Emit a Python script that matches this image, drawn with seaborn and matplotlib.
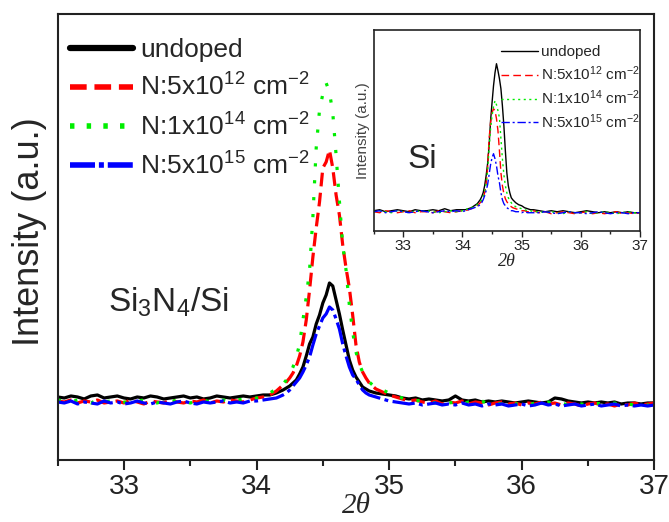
import pandas as pd
import seaborn as sns
import matplotlib.pyplot as plt
from matplotlib.lines import Line2D
from matplotlib.ticker import MultipleLocator

sns.set_theme(style='white')
plt.rcParams['font.family'] = ['Liberation Sans', 'DejaVu Sans']
plt.rcParams['mathtext.fontset'] = 'custom'
plt.rcParams['mathtext.rm'] = 'Liberation Sans'
plt.rcParams['mathtext.it'] = 'Liberation Sans:italic'
plt.rcParams['mathtext.default'] = 'regular'

# sample names, colours
samples = ['undoped', 'N:5x10$^{12}$ cm$^{-2}$', 'N:1x10$^{14}$ cm$^{-2}$', 'N:5x10$^{15}$ cm$^{-2}$']
colors = ['black', '#ff0000', '#00ee00', '#0000ff']

# main panel: Si3N4/Si
two_theta = [32.50, 32.55, 32.60, 32.65, 32.70, 32.75, 32.80, 32.85, 32.90, 32.95,
             33.00, 33.05, 33.10, 33.15, 33.20, 33.25, 33.30, 33.35, 33.40, 33.45,
             33.50, 33.55, 33.60, 33.65, 33.70, 33.75, 33.80, 33.85, 33.90, 33.95,
             34.00, 34.05, 34.10, 34.15,
             34.200, 34.225, 34.250, 34.275, 34.300, 34.325, 34.350, 34.375, 34.400, 34.425,
             34.450, 34.475, 34.500, 34.525, 34.550, 34.575, 34.600, 34.625, 34.650, 34.675,
             34.700, 34.725, 34.750, 34.775, 34.800, 34.825, 34.850, 34.875, 34.900,
             34.95, 35.00, 35.05, 35.10, 35.15, 35.20, 35.25, 35.30, 35.35, 35.40,
             35.45, 35.50, 35.55, 35.60, 35.65, 35.70, 35.75, 35.80, 35.85, 35.90,
             35.95, 36.00, 36.05, 36.10, 36.15, 36.20, 36.25, 36.30, 36.35, 36.40,
             36.45, 36.50, 36.55, 36.60, 36.65, 36.70, 36.75, 36.80, 36.85, 36.90,
             36.95, 37.00]

undoped = [63, 62, 64, 63, 61, 64, 65, 62, 63, 64, 62, 61, 63, 62, 64, 63, 61, 62, 63, 64,
           62, 63, 61, 62, 64, 63, 62, 63, 64, 63,
           64, 65, 65, 67,
           70, 72, 74, 77, 80, 86, 93, 104, 116, 123, 136, 145, 157, 165, 177, 174, 160, 146,
           130, 115, 100, 90, 83, 78, 73, 71, 69, 68, 67,
           66, 65, 64, 62, 61, 62, 60, 61, 60, 59, 60, 64, 60, 59, 60, 58, 59, 58, 59, 58,
           57, 58, 59, 58, 57, 58, 62, 61, 59, 58, 57, 58, 57, 58, 57, 58, 56, 57, 57, 56,
           57, 57]
n_5e12 = [59, 58, 60, 57, 59, 58, 60, 57, 58, 59, 57, 60, 58, 56, 59, 58, 57, 60, 58, 57,
          59, 58, 60, 57, 59, 58, 60, 59, 58, 60,
          62, 63, 65, 69,
          75, 78, 82, 87, 94, 104, 118, 140, 170, 203, 232, 258, 292, 298, 310, 292, 265, 245,
          215, 192, 172, 145, 115, 98, 88, 82, 77, 74, 71,
          68, 65, 63, 61, 59, 60, 58, 57, 59, 56, 58, 57, 59, 56, 58, 57, 55, 57, 58, 56,
          57, 55, 57, 56, 58, 56, 57, 55, 57, 56, 54, 56, 57, 55, 56, 54, 56, 55, 57, 55,
          56, 57]
n_1e14 = [60, 59, 58, 60, 59, 57, 60, 58, 59, 60, 58, 57, 59, 60, 58, 57, 59, 58, 60, 59,
          57, 59, 60, 58, 59, 60, 58, 60, 61, 60,
          62, 64, 67, 71,
          76, 80, 86, 93, 103, 116, 140, 163, 190, 243, 312, 350, 366, 377, 368, 347, 305, 259,
          215, 190, 155, 128, 108, 96, 88, 83, 78, 75, 73,
          70, 67, 64, 62, 61, 59, 60, 58, 57, 59, 57, 58, 56, 58, 57, 59, 56, 57, 56, 58,
          56, 57, 55, 57, 56, 58, 56, 57, 55, 57, 56, 55, 57, 56, 55, 57, 55, 56, 55, 56,
          55, 53]
n_5e15 = [58, 57, 59, 56, 58, 57, 56, 59, 57, 58, 56, 57, 59, 57, 56, 58, 57, 56, 58, 59,
          57, 56, 58, 57, 58, 59, 57, 58, 57, 59,
          59, 60, 61, 62,
          65, 67, 70, 74, 78, 82, 88, 95, 103, 115, 126, 134, 142, 146, 153, 150, 141, 131,
          116, 104, 93, 85, 81, 75, 70, 67, 65, 64, 63,
          61, 59, 58, 57, 56, 57, 55, 56, 57, 55, 56, 55, 57, 55, 56, 54, 56, 55, 56, 54,
          55, 56, 54, 55, 57, 55, 56, 54, 55, 56, 54, 55, 56, 54, 55, 56, 54, 55, 54, 55,
          54, 55]

# inset: Si
two_theta_si = [32.5, 32.6, 32.7, 32.8, 32.9, 33.0, 33.1, 33.2, 33.3, 33.4, 33.5, 33.6, 33.7,
                33.8, 33.9, 34.0,
                34.05, 34.10, 34.15, 34.20, 34.25,
                34.300, 34.325, 34.350, 34.375, 34.400, 34.425, 34.450, 34.475, 34.500, 34.525,
                34.550, 34.575, 34.600, 34.625, 34.650, 34.675, 34.700, 34.725, 34.750, 34.775,
                34.800, 34.825, 34.850,
                34.90, 34.95, 35.00, 35.05, 35.10, 35.15, 35.20,
                35.3, 35.4, 35.5, 35.6, 35.7, 35.8, 35.9, 36.0, 36.1, 36.2, 36.3, 36.4, 36.5,
                36.6, 36.7, 36.8, 36.9, 37.0]

si_undoped = [20, 21, 19, 20, 21, 20, 19, 21, 20, 20, 21, 20, 22, 20, 21, 21,
              21, 22, 23, 25, 27,
              31, 34, 38, 45, 55, 67, 85, 110, 128, 145, 158, 167, 160, 152, 142, 125, 105, 80,
              58, 45, 38, 33, 31,
              28, 26, 25, 23, 22, 21, 21,
              20, 19, 20, 19, 20, 19, 18, 19, 20, 19, 18, 19, 18, 19, 18, 19, 18, 18]
si_5e12 = [19, 18, 20, 19, 18, 19, 20, 18, 19, 19, 18, 20, 19, 18, 19, 20,
           20, 21, 22, 23, 25,
           28, 30, 33, 38, 47, 63, 92, 108, 118, 122, 120, 112, 100, 80, 58, 45, 37, 32,
           29, 27, 25, 24, 23,
           22, 21, 20, 20, 19, 19, 20,
           18, 19, 17, 18, 19, 18, 17, 18, 19, 17, 18, 17, 18, 19, 17, 18, 17, 18]
si_1e14 = [19, 20, 19, 18, 20, 19, 18, 20, 19, 20, 19, 18, 19, 20, 19, 20,
           21, 22, 23, 24, 26,
           29, 31, 34, 39, 47, 60, 82, 102, 115, 124, 130, 126, 120, 113, 92, 72, 56, 45,
           38, 33, 30, 28, 26,
           24, 23, 22, 21, 20, 20, 19,
           19, 18, 19, 18, 17, 19, 18, 18, 19, 17, 18, 19, 18, 17, 18, 19, 18, 17]
si_5e15 = [19, 20, 18, 19, 20, 19, 18, 19, 20, 19, 18, 19, 20, 19, 20, 19,
           20, 21, 22, 23, 24,
           26, 28, 31, 35, 40, 46, 56, 66, 73, 77, 72, 65, 55, 48, 38, 31, 27, 25,
           23, 22, 21, 20, 20,
           19, 19, 18, 19, 18, 18, 18,
           18, 19, 18, 17, 18, 19, 18, 18, 17, 18, 19, 18, 17, 18, 18, 17, 18, 18]


def long_table(x, series):
    parts = [pd.DataFrame({'two_theta': x, 'intensity': y, 'sample': s})
             for s, y in zip(samples, series)]
    return pd.concat(parts, ignore_index=True)


df_main = long_table(two_theta, [undoped, n_5e12, n_1e14, n_5e15])
df_si = long_table(two_theta_si, [si_undoped, si_5e12, si_1e14, si_5e15])

palette = dict(zip(samples, colors))
dash_main = dict(zip(samples, ['', (4.3, 2.0), (1.0, 4.3), (7.0, 1.4, 1.2, 1.4)]))
dash_si = dict(zip(samples, ['', (5.5, 3.0), (1.5, 2.5), (6.0, 2.0, 1.5, 2.0)]))

fig = plt.figure(figsize=(6.69, 5.22), dpi=100)
ax = fig.add_axes([0.0862, 0.1188, 0.8918, 0.8544])

sns.lineplot(data=df_main, x='two_theta', y='intensity', hue='sample', style='sample',
             palette=palette, dashes=dash_main, estimator=None, lw=2.3, legend=False, ax=ax)
ax.set_xlim(32.5, 37)
ax.set_ylim(0, 446)
ax.set_xlabel('')
ax.set_ylabel('')
ax.set_yticks([])
ax.set_xticks([33, 34, 35, 36, 37])
ax.xaxis.set_minor_locator(MultipleLocator(0.5))
ax.tick_params(axis='x', which='major', bottom=True, direction='out', length=7, width=1.5,
               labelsize=20, pad=3, colors='#222')
ax.tick_params(axis='x', which='minor', bottom=True, direction='out', length=4, width=1.5,
               colors='#222')
for sp in ax.spines.values():
    sp.set_linewidth(1.5)
    sp.set_color('#222')

handles = [Line2D([], [], color='black', lw=4.5),
           Line2D([], [], color=colors[1], lw=4, dashes=(3.0, 1.4)),
           Line2D([], [], color=colors[2], lw=4, dashes=(0.8, 2.2)),
           Line2D([], [], color=colors[3], lw=4, dashes=(4.5, 0.7, 0.9, 0.7))]
ax.legend(handles, samples, loc='upper left', bbox_to_anchor=(70 / 669, 1 - 38 / 522),
          bbox_transform=fig.transFigure, frameon=False, fontsize=19, handlelength=2.4,
          handletextpad=0.25, labelspacing=0.45, borderpad=0, borderaxespad=0)

fig.text(108 / 669, 1 - 302 / 522, 'Si$_3$N$_4$/Si', fontsize=24, ha='left', va='center')
fig.text(30 / 669, 1 - 232 / 522, 'Intensity (a.u.)', fontsize=26, rotation=90,
         ha='center', va='center')
fig.text(356 / 669, 1 - 506 / 522, '2\u03b8', fontsize=21, ha='center', va='center',
         family='Liberation Serif', style='italic')

# inset
ax_in = fig.add_axes([0.5586, 0.558, 0.398, 0.3845])
sns.lineplot(data=df_si, x='two_theta', y='intensity', hue='sample', style='sample',
             palette=palette, dashes=dash_si, estimator=None, lw=1.0, legend=False, ax=ax_in)
ax_in.set_xlim(32.5, 37)
ax_in.set_ylim(0, 200.7)
ax_in.set_yticks([])
ax_in.set_xticks([33, 34, 35, 36, 37])
ax_in.xaxis.set_minor_locator(MultipleLocator(0.5))
ax_in.tick_params(axis='x', which='major', bottom=True, direction='out', length=4, width=1.0,
                  labelsize=11, pad=2, colors='#222')
ax_in.tick_params(axis='x', which='minor', bottom=True, direction='out', length=2, width=1.0,
                  colors='#222')
for sp in ax_in.spines.values():
    sp.set_linewidth(1.2)
    sp.set_color('#222')
ax_in.set_xlabel('2\u03b8', fontsize=13, family='Liberation Serif', style='italic', labelpad=0)
ax_in.set_ylabel('Intensity (a.u.)', fontsize=11, color='#444', labelpad=3)

handles_in = [Line2D([], [], color='black', lw=1.0),
              Line2D([], [], color=colors[1], lw=1.0, dashes=(5.5, 3.0)),
              Line2D([], [], color=colors[2], lw=1.0, dashes=(1.5, 2.5)),
              Line2D([], [], color=colors[3], lw=1.0, dashes=(6.0, 2.0, 1.5, 2.0))]
ax_in.legend(handles_in, samples, loc='upper left', bbox_to_anchor=(501 / 669, 1 - 45 / 522),
             bbox_transform=fig.transFigure, frameon=False, fontsize=11, handlelength=2.4,
             handletextpad=0.2, labelspacing=0.35, borderpad=0, borderaxespad=0)
fig.text(407 / 669, 1 - 160 / 522, 'Si', fontsize=24, ha='left', va='center')

fig.savefig('out.png', dpi=100)
